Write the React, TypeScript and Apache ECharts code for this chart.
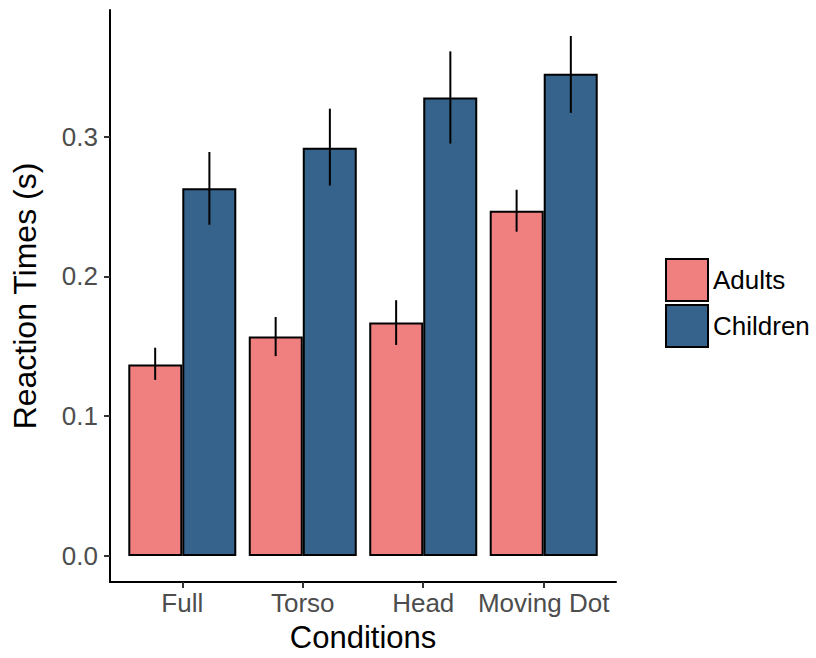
import React, { useEffect, useRef } from "react";
import * as echarts from "echarts";

const categories = ["Full", "Torso", "Head", "Moving Dot"];
const groups = ["Adults", "Children"];
const adultsMean = [0.137, 0.157, 0.167, 0.247];
const adultsLow = [0.126, 0.143, 0.151, 0.232];
const adultsHigh = [0.149, 0.171, 0.183, 0.262];
const childrenMean = [0.263, 0.292, 0.328, 0.345];
const childrenLow = [0.237, 0.265, 0.295, 0.317];
const childrenHigh = [0.289, 0.320, 0.361, 0.372];
const yTicks = [0, 0.1, 0.2, 0.3];
const colors = ["#F08080", "#35638B"];

export default function App() {
  const ref = useRef<HTMLDivElement>(null);
  useEffect(() => {
    if (!ref.current) return;
    const chart = echarts.init(ref.current, undefined, { renderer: "svg" });
    const xPos = categories.map((_, i) => i + 1);
    const font = "Liberation Sans, Arial, sans-serif";
    const errData = (lo: number[], hi: number[], off: number) =>
      xPos.map((x, i) => [x + off, lo[i], hi[i]]);
    const errRender = (params: any, api: any) => {
      const p1 = api.coord([api.value(0), api.value(1)]);
      const p2 = api.coord([api.value(0), api.value(2)]);
      return {
        type: "line",
        shape: { x1: p1[0], y1: p1[1], x2: p2[0], y2: p2[1] },
        style: { stroke: "#000", lineWidth: 2 },
      };
    };
    chart.setOption({
      animation: false,
      color: colors,
      grid: { left: 110, right: 200, top: 10, bottom: 75 },
      legend: {
        orient: "vertical",
        left: 665,
        top: 258,
        padding: 0,
        itemGap: 2,
        itemWidth: 42,
        itemHeight: 42,
        icon: "rect",
        data: groups,
        textStyle: { fontFamily: font, fontSize: 26, color: "#000", overflow: "none", width: 140 },
        itemStyle: { borderColor: "#000", borderWidth: 2 },
      },
      xAxis: {
        type: "value",
        min: 0.4,
        max: 4.6,
        splitLine: { show: false },
        axisLine: { show: true, onZero: false, lineStyle: { color: "#000", width: 2 } },
        axisTick: { show: true, customValues: xPos, length: 6, lineStyle: { color: "#333", width: 2 } },
        axisLabel: {
          customValues: xPos,
          formatter: (v: number) => categories[Math.round(v) - 1] ?? "",
          fontFamily: font,
          fontSize: 26,
          color: "#4d4d4d",
          margin: 8,
        },
        name: "Conditions",
        nameLocation: "middle",
        nameGap: 40,
        nameTextStyle: { fontFamily: font, fontSize: 31, color: "#000" },
      },
      yAxis: {
        type: "value",
        min: -0.0186,
        max: 0.3906,
        splitLine: { show: false },
        axisLine: { show: true, onZero: false, lineStyle: { color: "#000", width: 2 } },
        axisTick: { show: true, customValues: yTicks, length: 6, lineStyle: { color: "#333", width: 2 } },
        axisLabel: {
          customValues: yTicks,
          formatter: (v: number) => v.toFixed(1),
          fontFamily: font,
          fontSize: 26,
          color: "#4d4d4d",
          margin: 12,
        },
        name: "Reaction Times (s)",
        nameLocation: "middle",
        nameGap: 69,
        nameRotate: 90,
        nameTextStyle: { fontFamily: font, fontSize: 32, color: "#000" },
      },
      series: [
        {
          name: "Adults",
          type: "bar",
          data: xPos.map((x, i) => [x, adultsMean[i]]),
          barWidth: 54,
          barGap: "0%",
          itemStyle: { color: colors[0], borderColor: "#000", borderWidth: 2 },
        },
        {
          name: "Children",
          type: "bar",
          data: xPos.map((x, i) => [x, childrenMean[i]]),
          barWidth: 54,
          barGap: "0%",
          itemStyle: { color: colors[1], borderColor: "#000", borderWidth: 2 },
        },
        {
          type: "custom",
          renderItem: errRender,
          data: errData(adultsLow, adultsHigh, -0.225),
          z: 10,
        },
        {
          type: "custom",
          renderItem: errRender,
          data: errData(childrenLow, childrenHigh, 0.225),
          z: 10,
        },
      ],
    });
    return () => chart.dispose();
  }, []);
  return (
    <div
      ref={ref}
      style={{ position: "absolute", left: 0, top: 0, width: 816, height: 658 }}
    />
  );
}
